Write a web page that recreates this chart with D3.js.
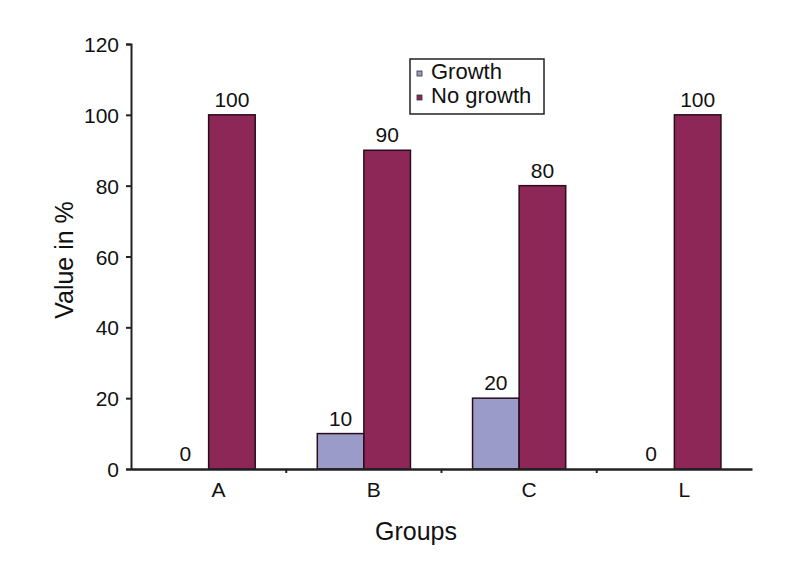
<!DOCTYPE html>
<html>
<head>
<meta charset="utf-8">
<script src="https://cdn.jsdelivr.net/npm/d3@7"></script>
<style>
  body { margin: 0; background: #fff; }
  text { font-family: "Liberation Sans", Arial, sans-serif; fill: #111; }
</style>
</head>
<body>
<div id="chart"></div>
<script>
var groups = ["A", "B", "C", "L"];
var growth = [0, 10, 20, 0];
var noGrowth = [100, 90, 80, 100];
var seriesNames = ["Growth", "No growth"];
var yTicks = [0, 20, 40, 60, 80, 100, 120];

var colors = { "Growth": "#9b9bc9", "No growth": "#8d2757" };

// dimensions
var margin = {top: 44, right: 37, bottom: 94, left: 131};
var W = 789, H = 563;
var width = W - margin.left - margin.right;
var height = H - margin.top - margin.bottom;

var svg = d3.select("#chart")
    .append("svg")
        .attr("width", W)
        .attr("height", H)
    .append("g")
        .attr("transform", "translate(" + margin.left + "," + margin.top + ")");

var data = groups.map(function(g, i) {
    return { group: g, values: [
        { key: "Growth", value: growth[i] },
        { key: "No growth", value: noGrowth[i] }
    ]};
});

var x0 = d3.scaleBand()
    .domain(groups)
    .range([0, width])
    .paddingInner(0)
    .paddingOuter(0);

var x1 = d3.scaleBand()
    .domain(seriesNames)
    .range([x0.bandwidth() * 0.2, x0.bandwidth() * 0.8]);

var y = d3.scaleLinear()
    .domain([0, 120])
    .range([height, 0]);

// y axis
var yAxis = svg.append("g")
    .call(d3.axisLeft(y).tickValues(yTicks).tickSize(5).tickPadding(7));
yAxis.select(".domain").attr("stroke", "#222").attr("stroke-width", 2);
yAxis.selectAll(".tick line").attr("stroke", "#222").attr("stroke-width", 2);
yAxis.selectAll("text").style("font-size", "21px").attr("dy", "0.36em");

// bars
var g = svg.selectAll("g.grp")
    .data(data)
    .enter()
    .append("g")
    .attr("class", "grp")
    .attr("transform", function(d) { return "translate(" + x0(d.group) + ",0)"; });

g.selectAll("rect")
    .data(function(d) { return d.values; })
    .enter()
    .append("rect")
    .attr("x", function(d) { return x1(d.key); })
    .attr("y", function(d) { return y(d.value); })
    .attr("width", x1.bandwidth())
    .attr("height", function(d) { return height - y(d.value); })
    .style("fill", function(d) { return colors[d.key]; })
    .style("stroke", "#2a0d1a")
    .style("stroke-width", "1.5px");

g.selectAll("text.val")
    .data(function(d) { return d.values; })
    .enter()
    .append("text")
    .attr("class", "val")
    .attr("x", function(d) { return x1(d.key) + x1.bandwidth() / 2; })
    .attr("y", function(d) { return y(d.value) - 8; })
    .style("text-anchor", "middle")
    .style("font-size", "21px")
    .text(function(d) { return d.value; });

// x axis
var xAxis = svg.append("g")
    .attr("transform", "translate(0," + height + ")")
    .call(d3.axisBottom(x0).tickSize(0).tickPadding(13));
xAxis.select(".domain").attr("stroke", "#222").attr("stroke-width", 2.5);
xAxis.selectAll("text").style("font-size", "21px").attr("dx", 10);

// tick marks between groups
svg.append("g").selectAll("line")
    .data(groups.slice(1))
    .enter()
    .append("line")
    .attr("x1", function(d) { return x0(d); })
    .attr("x2", function(d) { return x0(d); })
    .attr("y1", height)
    .attr("y2", height + 4)
    .attr("stroke", "#222")
    .attr("stroke-width", 2);

// axis titles
svg.append("text")
    .attr("transform", "rotate(-90)")
    .attr("x", -(260 - margin.top))
    .attr("y", 73 - margin.left)
    .style("text-anchor", "middle")
    .style("font-size", "25px")
    .text("Value in %");

svg.append("text")
    .attr("x", 416 - margin.left)
    .attr("y", 540 - margin.top)
    .style("text-anchor", "middle")
    .style("font-size", "25px")
    .text("Groups");

// legend
var legend = svg.append("g")
    .attr("transform", "translate(" + (410 - margin.left) + "," + (59 - margin.top) + ")");

legend.append("rect")
    .attr("width", 134)
    .attr("height", 55)
    .style("fill", "#fff")
    .style("stroke", "#222")
    .style("stroke-width", 1.5);

var li = legend.selectAll("g.item")
    .data(seriesNames)
    .enter()
    .append("g")
    .attr("class", "item")
    .attr("transform", function(d, i) { return "translate(7," + (20 + i * 24) + ")"; });

li.append("rect")
    .attr("x", 0)
    .attr("y", -8)
    .attr("width", 5)
    .attr("height", 5)
    .style("fill", function(d) { return colors[d]; })
    .style("stroke", "#333")
    .style("stroke-width", 0.8);

li.append("text")
    .attr("x", 14)
    .attr("y", 0)
    .style("font-size", "22px")
    .text(function(d) { return d; });
</script>
</body>
</html>
